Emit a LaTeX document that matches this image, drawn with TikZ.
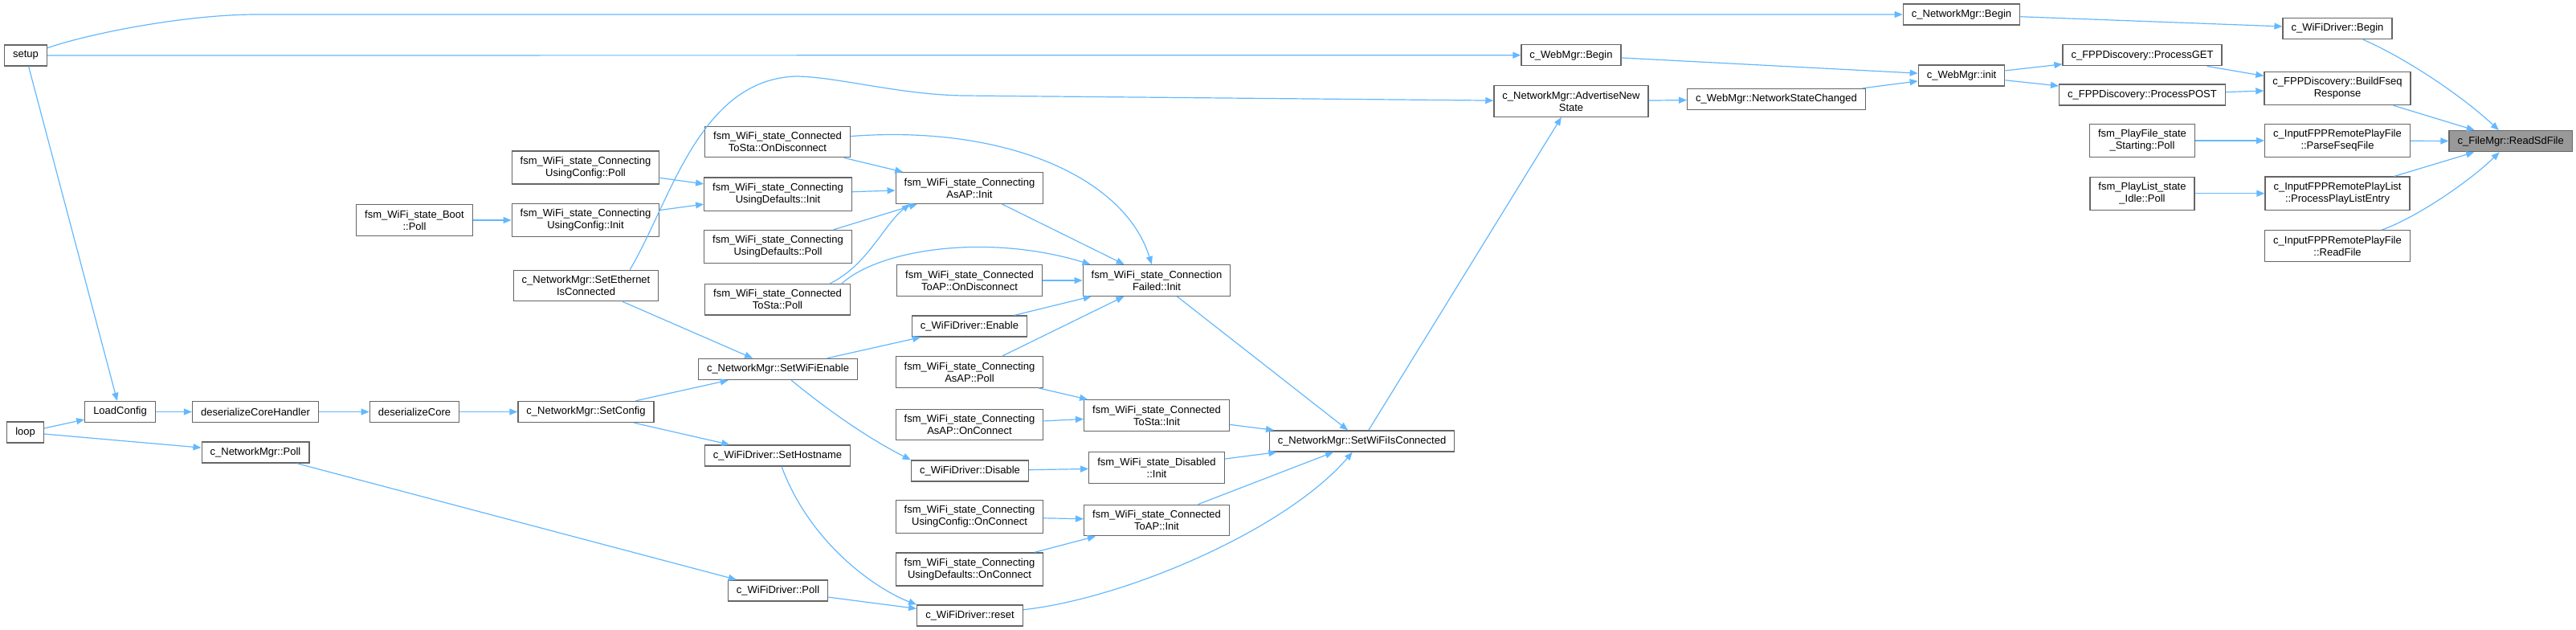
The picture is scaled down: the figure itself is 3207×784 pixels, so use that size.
\documentclass[tikz,border=0pt]{standalone}
\usepackage{fontspec}
\setmainfont{Liberation Sans}
\usepackage{tikz}
\usetikzlibrary{arrows.meta}
\definecolor{edgeblue}{HTML}{63B8FF}
\definecolor{boxgray}{HTML}{666666}
\definecolor{curgray}{HTML}{999999}

\begin{document}
\begin{tikzpicture}[
  x=1pt, y=-1pt,
  font=\fontsize{13}{15}\selectfont,
  box/.style={draw=boxgray, line width=1.3pt, fill=white, align=center, inner xsep=10.5pt, inner ysep=7pt, minimum height=26pt},
  cur/.style={box, fill=curgray},
  arr/.style={-{Triangle[length=10pt,width=8pt]}, draw=edgeblue, line width=1.2pt}]
\useasboundingbox (0,0) rectangle (3207,784);
\node[box] (setup) at (32,69) {setup};
\node[box] (loop) at (31.6,538) {loop};
\node[box] (load) at (149.5,512.5) {LoadConfig};
\node[box] (deshdl) at (318,512.5) {deserializeCoreHandler};
\node[box] (descore) at (516,512.5) {deserializeCore};
\node[box] (setcfg) at (729.5,512.5) {c\_NetworkMgr::SetConfig};
\node[box] (nmpoll) at (318,563) {c\_NetworkMgr::Poll};
\node[box] (bootpoll) at (516,274) {fsm\_WiFi\_state\_Boot\\::Poll};
\node[box] (ucpoll) at (729,208.5) {fsm\_WiFi\_state\_Connecting\\UsingConfig::Poll};
\node[box] (ucinit) at (729,274) {fsm\_WiFi\_state\_Connecting\\UsingConfig::Init};
\node[box] (seteth) at (729.5,355.5) {c\_NetworkMgr::SetEthernet\\IsConnected};
\node[box] (tsdisc) at (968,176.5) {fsm\_WiFi\_state\_Connected\\ToSta::OnDisconnect};
\node[box] (udinit) at (968.5,241.7) {fsm\_WiFi\_state\_Connecting\\UsingDefaults::Init};
\node[box] (udpoll) at (968.5,307) {fsm\_WiFi\_state\_Connecting\\UsingDefaults::Poll};
\node[box] (tspoll) at (968,372.8) {fsm\_WiFi\_state\_Connected\\ToSta::Poll};
\node[box] (wifien) at (968.5,459.5) {c\_NetworkMgr::SetWiFiEnable};
\node[box] (sethost) at (968,567) {c\_WiFiDriver::SetHostname};
\node[box] (wdpoll) at (968.5,735) {c\_WiFiDriver::Poll};
\node[box] (apinit) at (1207,234) {fsm\_WiFi\_state\_Connecting\\AsAP::Init};
\node[box] (apdisc) at (1207,349) {fsm\_WiFi\_state\_Connected\\ToAP::OnDisconnect};
\node[box] (enable) at (1207,406) {c\_WiFiDriver::Enable};
\node[box] (appoll) at (1207,463) {fsm\_WiFi\_state\_Connecting\\AsAP::Poll};
\node[box] (apconn) at (1207,528.5) {fsm\_WiFi\_state\_Connecting\\AsAP::OnConnect};
\node[box] (disable) at (1207.5,586) {c\_WiFiDriver::Disable};
\node[box] (ucconn) at (1207,643) {fsm\_WiFi\_state\_Connecting\\UsingConfig::OnConnect};
\node[box] (udconn) at (1207,708.5) {fsm\_WiFi\_state\_Connecting\\UsingDefaults::OnConnect};
\node[box] (reset) at (1207.5,766) {c\_WiFiDriver::reset};
\node[box] (cfinit) at (1440,349) {fsm\_WiFi\_state\_Connection\\Failed::Init};
\node[box] (tsinit) at (1440,517) {fsm\_WiFi\_state\_Connected\\ToSta::Init};
\node[box] (disinit) at (1440,582) {fsm\_WiFi\_state\_Disabled\\::Init};
\node[box] (toapinit) at (1440,647.5) {fsm\_WiFi\_state\_Connected\\ToAP::Init};
\node[box] (wificonn) at (1695.5,549) {c\_NetworkMgr::SetWiFiIsConnected};
\node[box] (webbegin) at (1956,68.7) {c\_WebMgr::Begin};
\node[box] (advert) at (1956,126) {c\_NetworkMgr::AdvertiseNew\\State};
\node[box] (statechg) at (2211.5,123.5) {c\_WebMgr::NetworkStateChanged};
\node[box] (nmbegin) at (2442,18) {c\_NetworkMgr::Begin};
\node[box] (webinit) at (2442,94) {c\_WebMgr::init};
\node[box] (procget) at (2667,68.7) {c\_FPPDiscovery::ProcessGET};
\node[box] (procpost) at (2667,118) {c\_FPPDiscovery::ProcessPOST};
\node[box] (pfpoll) at (2667,175) {fsm\_PlayFile\_state\\\_Starting::Poll};
\node[box] (plpoll) at (2667,240.7) {fsm\_PlayList\_state\\\_Idle::Poll};
\node[box] (wdbegin) at (2910,35.5) {c\_WiFiDriver::Begin};
\node[box] (fseqresp) at (2910,110) {c\_FPPDiscovery::BuildFseq\\Response};
\node[box] (parse) at (2910,175) {c\_InputFPPRemotePlayFile\\::ParseFseqFile};
\node[box] (plentry) at (2910,240.7) {c\_InputFPPRemotePlayList\\::ProcessPlayListEntry};
\node[box] (readfile) at (2910,306) {c\_InputFPPRemotePlayFile\\::ReadFile};
\node[cur] (readsd) at (3125.7,175.7) {c\_FileMgr::ReadSdFile};
\foreach \a/\b in {setup/webbegin, setup/load, loop/load, loop/nmpoll, load/deshdl, deshdl/descore,
  descore/setcfg, setcfg/wifien, setcfg/sethost, nmpoll/wdpoll, wdpoll/reset, wifien/enable,
  seteth/wifien, bootpoll/ucinit, ucpoll/udinit, ucinit/udinit, tsdisc/apinit, udinit/apinit,
  udpoll/apinit, apinit/cfinit, apdisc/cfinit, enable/cfinit, appoll/cfinit, appoll/tsinit,
  apconn/tsinit, disable/disinit, ucconn/toapinit, udconn/toapinit, cfinit/wificonn,
  tsinit/wificonn, disinit/wificonn, toapinit/wificonn, wificonn/advert, advert/statechg,
  statechg/webinit, webbegin/webinit, webinit/procget, webinit/procpost, procget/fseqresp,
  procpost/fseqresp, nmbegin/wdbegin, fseqresp/readsd, parse/readsd, plentry/readsd,
  pfpoll/parse, plpoll/plentry} \draw[arr] (\a) -- (\b);
% curved calls
\draw[arr] (setup) .. controls (110,42) and (230,18) .. (320,18) -- (nmbegin);
\draw[arr] (seteth.20) .. controls (835,250) and (870,100) .. (990,95) .. controls (1040,95) and (1120,118) .. (1200,119) -- (advert);
\draw[arr] (tsdisc) .. controls (1250,155) and (1400,220) .. (cfinit);
\draw[arr] (tspoll.17) .. controls (1080,330) and (1100,280) .. (apinit.195);
\draw[arr] (tspoll.14) .. controls (1095,310) and (1230,290) .. ([xshift=10pt]cfinit.north west);
\draw[arr] (wifien) .. controls (1030,510) and (1080,545) .. (disable.north west);
\draw[arr] (sethost) .. controls (1010,680) and (1095,735) .. (reset.north west);
\draw[arr] (reset) .. controls (1400,745) and (1600,660) .. (wificonn);
\draw[arr] (wdbegin) .. controls (2990,70) and (3060,115) .. (readsd);
\draw[arr] (readfile) .. controls (3010,270) and (3075,225) .. (readsd);
\end{tikzpicture}
\end{document}
